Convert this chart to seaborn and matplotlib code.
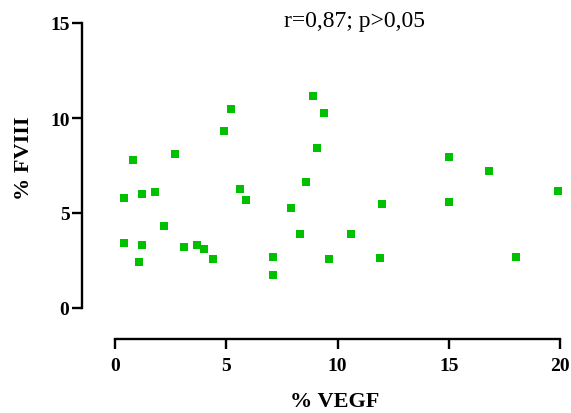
import matplotlib
matplotlib.use("Agg")
import matplotlib.pyplot as plt
import seaborn as sns
import pandas as pd

vegf = [0.4, 0.4, 0.8, 1.2, 1.2, 1.1, 1.8, 2.2, 2.7, 3.1, 3.7, 4.0, 4.4, 4.9, 5.2,
        5.6, 5.9, 7.1, 7.1, 7.9, 8.3, 8.6, 8.9, 9.1, 9.4, 9.6, 10.6, 12.0, 11.9,
        15.0, 15.0, 16.8, 18.0, 19.9]
fviii = [5.8, 3.4, 7.8, 6.0, 3.3, 2.4, 6.1, 4.3, 8.1, 3.2, 3.3, 3.1, 2.6, 9.3, 10.45,
         6.25, 5.7, 2.7, 1.75, 5.25, 3.9, 6.65, 11.15, 8.4, 10.25, 2.6, 3.9, 5.45, 2.65,
         7.95, 5.6, 7.2, 2.7, 6.15]
x_ticks = [0, 5, 10, 15, 20]
y_ticks = [0, 5, 10, 15]
x_label = "% VEGF"
y_label = "% FVIII"
annotation = "r=0,87; p>0,05"

df = pd.DataFrame({"VEGF": vegf, "FVIII": fviii})

sns.set_style("ticks")
plt.rcParams["font.family"] = ["Liberation Serif", "DejaVu Serif"]
plt.rcParams["text.color"] = "black"
plt.rcParams["axes.labelcolor"] = "black"
plt.rcParams["xtick.color"] = "black"
plt.rcParams["ytick.color"] = "black"

W, H = 571, 414
fig = plt.figure(figsize=(W / 100, H / 100), dpi=100)
ax = fig.add_axes([115 / W, 1 - 309 / H, 445 / W, 285 / H])

for s in ["top", "right"]:
    ax.spines[s].set_visible(False)
ax.spines["left"].set_position(("outward", 33 * 0.72))
ax.spines["bottom"].set_position(("outward", 31 * 0.72))

sns.scatterplot(data=df, x="VEGF", y="FVIII", ax=ax, marker="s", s=38,
                color="#00C000", linewidth=0, clip_on=False, legend=False)

ax.set_xlim(0, 20)
ax.set_ylim(0, 15)
ax.spines["left"].set_bounds(0, 15)
ax.spines["bottom"].set_bounds(0, 20)
for s in ["left", "bottom"]:
    ax.spines[s].set_linewidth(1.7)
    ax.spines[s].set_color("black")

ax.set_xticks(x_ticks)
ax.set_yticks(y_ticks)
ax.set_xticklabels([str(t) for t in x_ticks], fontsize=14, fontweight="bold")
ax.set_yticklabels([str(t) for t in y_ticks], fontsize=14, fontweight="bold")
ax.tick_params(axis="both", direction="out", length=7, width=1.7, color="black",
               labelcolor="black")
ax.tick_params(axis="y", pad=2)
ax.tick_params(axis="x", pad=6)

ax.set_xlabel(x_label, fontsize=16, fontweight="bold", va="center")
ax.set_ylabel(y_label, fontsize=16, fontweight="bold", va="center", ha="center")
ax.xaxis.set_label_coords((335 - 115) / 445, (309 - 402) / 285)
ax.yaxis.set_label_coords((24 - 115) / 445, (309 - 158) / 285)

ax.text((355 - 115) / 445, (309 - 22) / 285, annotation, transform=ax.transAxes,
        ha="center", va="center", fontsize=17, color="black")

fig.savefig("out.png", dpi=100)
